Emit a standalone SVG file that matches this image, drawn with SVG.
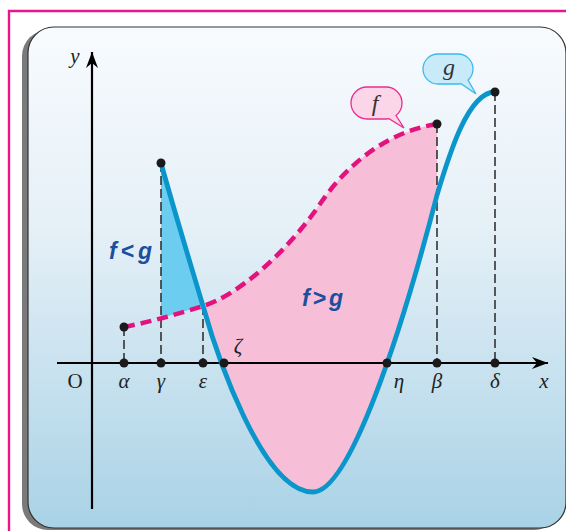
<svg xmlns="http://www.w3.org/2000/svg" width="566" height="531" viewBox="0 0 566 531">
  <defs>
    <linearGradient id="bg" x1="0" y1="0" x2="0" y2="1">
      <stop offset="0" stop-color="#f8fbfe"/>
      <stop offset="0.4" stop-color="#e5f0f7"/>
      <stop offset="1" stop-color="#a9d2e6"/>
    </linearGradient>
    <marker id="arr" markerWidth="18" markerHeight="14" viewBox="-17 -7 18 14" refX="0" refY="0" orient="auto" markerUnits="userSpaceOnUse">
      <path d="M0,0 L-16,-6 L-11,0 L-16,6 Z" fill="#000"/>
    </marker>
    <style>
      .axis{stroke:#000;stroke-width:2.2;fill:none}
      .drop{stroke:#333;stroke-width:1.6;stroke-dasharray:9 4;fill:none}
      .dot{fill:#1a1a1a}
      .lab{font-family:"Liberation Serif",serif;font-style:italic;font-size:21px;fill:#222;text-anchor:middle}
      .rel{font-family:"Liberation Sans",sans-serif;font-style:italic;font-weight:bold;font-size:23px;fill:#1c4e9f}
      .fcurve{stroke:#e4127e;stroke-width:4.5;stroke-dasharray:11 6;fill:none}
      .gcurve{stroke:#0a95cb;stroke-width:4.8;fill:none;stroke-linecap:round}
    </style>
  </defs>

  <!-- frame -->
  <path d="M9,531 V11 H566" fill="none" stroke="#e8168c" stroke-width="2.4"/>
  <rect x="22" y="30" width="538" height="500" rx="26" fill="#7a7a7a"/>
  <rect x="28" y="27" width="538" height="501" rx="26" fill="url(#bg)" stroke="#333" stroke-width="1.2"/>

  <!-- regions -->
  <g id="region-fg">
    <path d="M203,306 C 236,296 285,255 320,204 C 345,167 385,132 437,124 L437,195 C 402,330 350,492 313,492 C 262,492 216,352 203,306 Z" fill="#f7bed7"/>
  </g>
  <g id="region-gf">
    <path d="M161,163 C 174,210 189,259 203,306 L161,318 Z" fill="#6dcdf1"/>
  </g>

  <!-- connectors: drop lines and axes -->
  <g id="connectors">
    <line class="drop" x1="124" y1="327" x2="124" y2="363"/>
    <line class="drop" x1="161" y1="163" x2="161" y2="363"/>
    <line class="drop" x1="203" y1="306" x2="203" y2="363"/>
    <line class="drop" x1="437" y1="124" x2="437" y2="363"/>
    <line class="drop" x1="495" y1="92" x2="495" y2="363"/>
    <line class="axis" x1="57" y1="363" x2="548" y2="363" marker-end="url(#arr)"/>
    <line class="axis" x1="92" y1="509" x2="92" y2="52" marker-end="url(#arr)"/>
  </g>

  <!-- curves -->
  <g id="curve-f">
    <path class="fcurve" d="M124,327 C 150,322 178,314 203,306 C 236,296 285,255 320,204 C 345,167 385,132 437,124"/>
  </g>
  <g id="curve-g">
    <path class="gcurve" d="M161,163 C 174,210 189,259 203,306 C 216,352 262,492 313,492 C 350,492 402,330 437,195 C 449,155 468,92 495,92"/>
  </g>

  <!-- points -->
  <g id="points">
    <circle class="dot" cx="124" cy="327" r="4.5"/>
    <circle class="dot" cx="161" cy="163" r="4.5"/>
    <circle class="dot" cx="437" cy="124" r="4.5"/>
    <circle class="dot" cx="495" cy="92" r="4.5"/>
    <circle class="dot" cx="124" cy="363" r="4.5"/>
    <circle class="dot" cx="161" cy="363" r="4.5"/>
    <circle class="dot" cx="203" cy="363" r="4.5"/>
    <circle class="dot" cx="224" cy="363" r="4.5"/>
    <circle class="dot" cx="387" cy="363" r="4.5"/>
    <circle class="dot" cx="437" cy="363" r="4.5"/>
    <circle class="dot" cx="495" cy="363" r="4.5"/>
  </g>

  <!-- axis labels -->
  <g id="labels">
    <text x="75" y="63" class="lab">y</text>
    <text x="75" y="388" class="lab" style="font-style:normal">O</text>
    <text x="124" y="388" class="lab">α</text>
    <text x="161" y="388" class="lab">γ</text>
    <text x="203" y="388" class="lab">ε</text>
    <text x="238" y="353" class="lab">ζ</text>
    <text x="399" y="388" class="lab">η</text>
    <text x="437" y="388" class="lab">β</text>
    <text x="495" y="388" class="lab">δ</text>
    <text x="544" y="388" class="lab">x</text>
    <text x="109" y="259" class="rel" textLength="43" lengthAdjust="spacing">f&lt;g</text>
    <text x="302" y="306" class="rel" textLength="41" lengthAdjust="spacing">f&gt;g</text>
  </g>

  <!-- callouts -->
  <g id="callout-f">
    <path d="M367,87 H386 A16,16 0 0 1 402,103 A16,16 0 0 1 396,115.5 L404,128 L389,118.7 L386,119 H367 A16,16 0 0 1 351,103 A16,16 0 0 1 367,87 Z" fill="#fbd6e8" stroke="#ec2d8f" stroke-width="1.3"/>
    <text x="375" y="111" class="lab" style="font-size:24px;fill:#333">f</text>
  </g>
  <g id="callout-g">
    <path d="M438,54 H458 A15,15 0 0 1 473,69 A15,15 0 0 1 468,80.2 L476,94 L461,83.7 L458,84 H438 A15,15 0 0 1 423,69 A15,15 0 0 1 438,54 Z" fill="#c9ebf9" stroke="#3bbbe9" stroke-width="1.3"/>
    <text x="449" y="75" class="lab" style="font-size:24px;fill:#333">g</text>
  </g>
</svg>
